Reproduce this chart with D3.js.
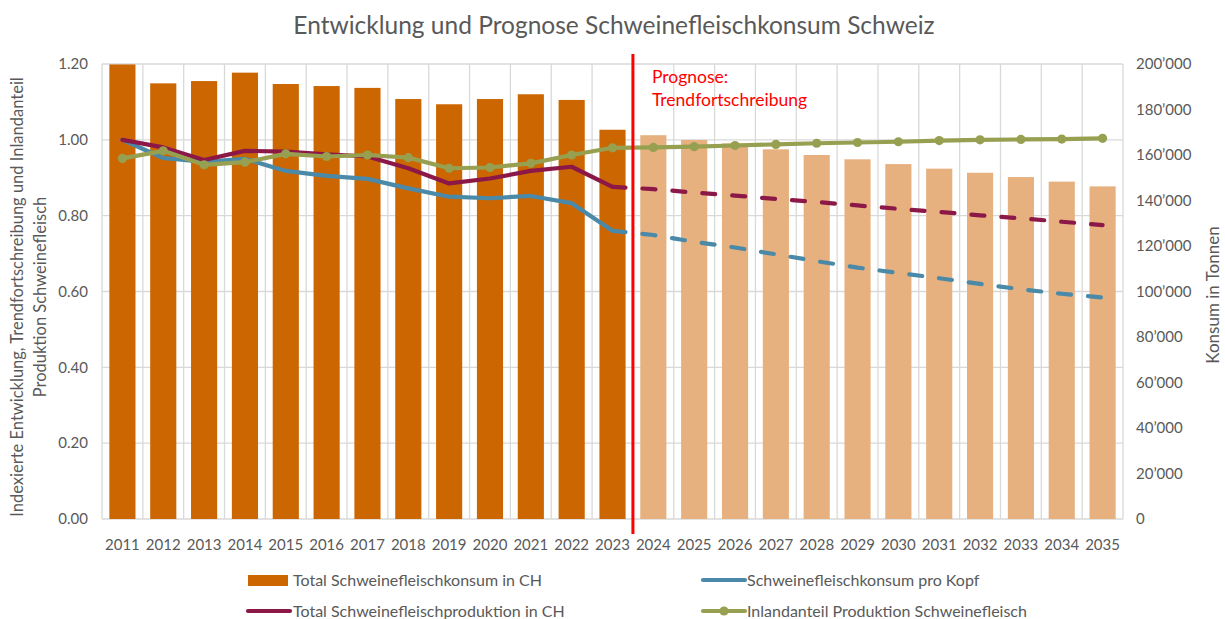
<!DOCTYPE html>
<html>
<head>
<meta charset="utf-8">
<script src="https://cdn.jsdelivr.net/npm/d3@7"></script>
<style>
  html, body { margin: 0; padding: 0; background: #fff; }
  svg { display: block; font-family: "Lato", "Open Sans", sans-serif; }
</style>
</head>
<body>
<svg id="chart" width="1225" height="619"></svg>
<script>
// Years on the category axis
const years = ["2011","2012","2013","2014","2015","2016","2017","2018","2019","2020","2021","2022","2023",
               "2024","2025","2026","2027","2028","2029","2030","2031","2032","2033","2034","2035"];
const firstForecastYear = "2024";

// Total pork consumption in CH (tonnes), right axis
const consumption = [199800,191500,192500,196200,191200,190300,189500,184600,182300,184600,186700,184200,171100,
                     168700,166600,165100,162500,160000,158100,156000,154000,152200,150300,148300,146200];

// Per-capita consumption index: observed 2011–2023, trend 2023–2035
const perCapitaYears = years.slice(0, 13);
const perCapita = [1.000,0.952,0.942,0.950,0.918,0.905,0.897,0.872,0.850,0.846,0.852,0.833,0.760];
const perCapitaTrendYears = years.slice(12);
const perCapitaTrend = [0.760,0.749,0.731,0.716,0.698,0.680,0.663,0.649,0.635,0.620,0.606,0.594,0.584];

// Total production index: observed 2011–2023, trend 2023–2035
const productionYears = years.slice(0, 13);
const production = [1.000,0.980,0.947,0.971,0.969,0.962,0.956,0.925,0.885,0.898,0.918,0.929,0.876];
const productionTrendYears = years.slice(12);
const productionTrend = [0.876,0.870,0.861,0.853,0.844,0.836,0.827,0.818,0.810,0.801,0.793,0.784,0.775];

// Domestic share of pork production
const domesticShare = [0.951,0.971,0.934,0.941,0.963,0.956,0.960,0.953,0.925,0.927,0.938,0.960,0.979,
                       0.980,0.982,0.985,0.988,0.991,0.993,0.995,0.998,1.000,1.001,1.002,1.004];

const leftTicks = [0, 0.2, 0.4, 0.6, 0.8, 1.0, 1.2];
const rightTicks = [0,20000,40000,60000,80000,100000,120000,140000,160000,180000,200000];

const title = "Entwicklung und Prognose Schweinefleischkonsum Schweiz";
const leftTitle = ["Indexierte Entwicklung, Trendfortschreibung und Inlandanteil", "Produktion Schweinefleisch"];
const rightTitle = "Konsum in Tonnen";
const forecastNote = ["Prognose:", "Trendfortschreibung"];
const legendLabels = {
  consumption: "Total Schweinefleischkonsum in CH",
  perCapita: "Schweinefleischkonsum pro Kopf",
  production: "Total Schweinefleischproduktion in CH",
  share: "Inlandanteil Produktion Schweinefleisch"
};

const C = {
  bar: "#CC6600",
  barForecast: "#E6B07F",
  perCapita: "#4A8AA8",
  production: "#8C1848",
  share: "#97A050",
  grid: "#D9D9D9",
  text: "#595959",
  marker: "#FF0000"
};

const svg = d3.select("#chart");
const plot = { left: 102, right: 1123, top: 64, bottom: 519 };

const x = d3.scaleBand().domain(years).range([plot.left, plot.right])
  .paddingInner(0.36).paddingOuter(0.18);
const yL = d3.scaleLinear().domain([0, 1.2]).range([plot.bottom, plot.top]);
const yR = d3.scaleLinear().domain([0, 200000]).range([plot.bottom, plot.top]);
const cx = d => x(d) + x.bandwidth() / 2;

// Gridlines: horizontal at left-axis ticks, vertical at category boundaries
const g = svg.append("g");
g.selectAll("line.h").data(leftTicks).join("line")
  .attr("x1", plot.left).attr("x2", plot.right)
  .attr("y1", d => yL(d)).attr("y2", d => yL(d))
  .attr("stroke", C.grid).attr("stroke-width", 1.3);
const boundaries = d3.range(years.length + 1).map(i => plot.left + i * x.step());
g.selectAll("line.v").data(boundaries).join("line")
  .attr("x1", d => d).attr("x2", d => d)
  .attr("y1", plot.top).attr("y2", plot.bottom)
  .attr("stroke", C.grid).attr("stroke-width", 1.3);

// Bars
const isForecast = y => +y >= +firstForecastYear;
svg.append("g").selectAll("rect").data(years).join("rect")
  .attr("x", d => x(d)).attr("width", x.bandwidth())
  .attr("y", (d, i) => yR(consumption[i]))
  .attr("height", (d, i) => plot.bottom - yR(consumption[i]))
  .attr("fill", d => isForecast(d) ? C.barForecast : C.bar);

// Lines
const line = d3.line().x(d => cx(d[0])).y(d => yL(d[1]));
function drawLine(xs, vs, color, dashed) {
  svg.append("path").datum(d3.zip(xs, vs))
    .attr("d", line).attr("fill", "none")
    .attr("stroke", color).attr("stroke-width", 4.2)
    .attr("stroke-linejoin", "round").attr("stroke-linecap", "round")
    .attr("stroke-dasharray", dashed ? "13,17" : null);
}
drawLine(perCapitaYears, perCapita, C.perCapita, false);
drawLine(perCapitaTrendYears, perCapitaTrend, C.perCapita, true);
drawLine(productionYears, production, C.production, false);
drawLine(productionTrendYears, productionTrend, C.production, true);
drawLine(years, domesticShare, C.share, false);
svg.append("g").selectAll("circle").data(d3.zip(years, domesticShare)).join("circle")
  .attr("cx", d => cx(d[0])).attr("cy", d => yL(d[1])).attr("r", 4.6)
  .attr("fill", C.share);

// Forecast divider
const divX = x(firstForecastYear) - x.step() * x.paddingInner() / 2;
svg.append("line").attr("x1", divX).attr("x2", divX)
  .attr("y1", plot.top - 10).attr("y2", plot.bottom + 15)
  .attr("stroke", C.marker).attr("stroke-width", 3);
svg.append("text").attr("x", divX + 19).attr("y", 83)
  .attr("fill", C.marker).attr("font-size", 17.5)
  .selectAll("tspan").data(forecastNote).join("tspan")
  .attr("x", divX + 19).attr("dy", (d, i) => i ? 23 : 0).text(d => d);

// Axes labels
svg.append("g").selectAll("text").data(leftTicks).join("text")
  .attr("x", 88).attr("y", d => yL(d)).attr("dy", "0.35em")
  .attr("text-anchor", "end").attr("fill", C.text).attr("font-size", 15)
  .text(d3.format(".2f"));
const fmtR = v => d3.format(",")(v).replace(/,/g, "\u2019");
svg.append("g").selectAll("text").data(rightTicks).join("text")
  .attr("x", 1136).attr("y", d => yR(d)).attr("dy", "0.35em")
  .attr("text-anchor", "start").attr("fill", C.text).attr("font-size", 15)
  .text(fmtR);
svg.append("g").selectAll("text").data(years).join("text")
  .attr("x", d => cx(d)).attr("y", 545).attr("dy", "0.35em")
  .attr("text-anchor", "middle").attr("fill", C.text).attr("font-size", 15)
  .text(d => d);

// Titles
svg.append("text").attr("x", 614).attr("y", 25).attr("dy", "0.35em")
  .attr("text-anchor", "middle").attr("fill", C.text).attr("font-size", 24.5)
  .text(title);
svg.append("g").attr("transform", "translate(0,297) rotate(-90)")
  .selectAll("text").data(leftTitle).join("text")
  .attr("x", 0).attr("y", (d, i) => 17 + i * 23).attr("dy", "0.35em")
  .attr("text-anchor", "middle").attr("fill", C.text).attr("font-size", 16.5)
  .text(d => d);
svg.append("text").attr("transform", "translate(1213,295) rotate(-90)")
  .attr("dy", "0.35em").attr("text-anchor", "middle")
  .attr("fill", C.text).attr("font-size", 17).text(rightTitle);

// Legend
const lg = svg.append("g").attr("font-size", 16).attr("fill", C.text);
function legendText(xp, yp, label) {
  lg.append("text").attr("x", xp).attr("y", yp).attr("dy", "0.35em").attr("fill", C.text).text(label);
}
lg.append("rect").attr("x", 248).attr("y", 575).attr("width", 40).attr("height", 11).attr("fill", C.bar);
legendText(293, 580, legendLabels.consumption);
lg.append("line").attr("x1", 248).attr("x2", 290).attr("y1", 611).attr("y2", 611)
  .attr("stroke", C.production).attr("stroke-width", 4.2).attr("stroke-linecap", "round");
legendText(293, 611, legendLabels.production);
lg.append("line").attr("x1", 703).attr("x2", 745).attr("y1", 580).attr("y2", 580)
  .attr("stroke", C.perCapita).attr("stroke-width", 4.2).attr("stroke-linecap", "round");
legendText(747, 580, legendLabels.perCapita);
lg.append("line").attr("x1", 703).attr("x2", 745).attr("y1", 611).attr("y2", 611)
  .attr("stroke", C.share).attr("stroke-width", 4.2).attr("stroke-linecap", "round");
lg.append("circle").attr("cx", 724).attr("cy", 611).attr("r", 4.6).attr("fill", C.share);
legendText(747, 611, legendLabels.share);
</script>
</body>
</html>
